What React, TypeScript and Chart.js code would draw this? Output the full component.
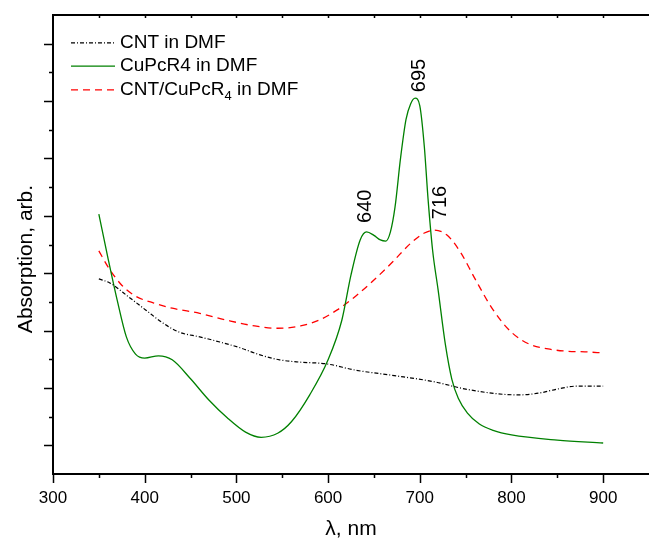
import React, { useEffect, useRef } from "react";
import { Chart, registerables } from "chart.js";

Chart.register(...registerables);

// ---- Data ----
const cntWavelengths = [350, 362, 383, 401, 420, 438, 460, 482, 504, 525, 547, 569, 598, 630, 670, 715, 750, 790, 810, 830, 850, 870, 900];
const cntValues = [3.90, 3.83, 3.58, 3.36, 3.13, 2.97, 2.89, 2.80, 2.70, 2.58, 2.49, 2.45, 2.42, 2.31, 2.22, 2.11, 1.98, 1.89, 1.88, 1.91, 1.98, 2.03, 2.03];

const cupcWavelengths = [350, 360, 370, 380, 390, 400, 415, 430, 450, 470, 490, 510, 527, 545, 560, 580, 600, 615, 625, 635, 642, 650, 657, 663, 668, 673, 679, 685, 690, 695, 700, 705, 709, 714, 720, 728, 735, 742, 752, 765, 780, 800, 850, 900];
const cupcValues = [5.03, 4.26, 3.53, 2.89, 2.59, 2.52, 2.56, 2.49, 2.16, 1.79, 1.48, 1.23, 1.14, 1.21, 1.41, 1.88, 2.49, 3.18, 3.97, 4.58, 4.72, 4.66, 4.58, 4.56, 4.72, 5.15, 6.00, 6.68, 6.95, 7.05, 6.92, 6.20, 5.30, 4.40, 3.71, 2.75, 2.15, 1.82, 1.56, 1.37, 1.26, 1.18, 1.09, 1.04];

const hybridWavelengths = [350, 360, 375, 390, 410, 430, 460, 490, 520, 545, 570, 590, 610, 630, 650, 670, 690, 705, 716, 730, 745, 760, 780, 800, 820, 840, 860, 880, 900];
const hybridValues = [4.39, 4.11, 3.79, 3.60, 3.48, 3.39, 3.30, 3.18, 3.08, 3.04, 3.08, 3.18, 3.36, 3.60, 3.88, 4.19, 4.52, 4.70, 4.75, 4.66, 4.35, 3.91, 3.36, 2.97, 2.76, 2.68, 2.64, 2.63, 2.61];

const xTickLabels = [300, 400, 500, 600, 700, 800, 900];
const xMin = 300;
const xMax = 950;
const yMin = 0.5;
const yMax = 8.5;

const xTitle = "λ, nm";
const yTitle = "Absorption, arb.";

// peak annotations: label text, series index, wavelength of the peak in that series
const peakTexts = ["640", "695", "716"];
const peakSeries = [1, 1, 2];
const peakWavelengths = [642, 695, 716];

const FONT = "'Liberation Sans', Arial, Helvetica, sans-serif";

const toPoints = (xs: number[], ys: number[]) => xs.map((x, i) => ({ x, y: ys[i] }));

const seriesX = [cntWavelengths, cupcWavelengths, hybridWavelengths];
const seriesY = [cntValues, cupcValues, hybridValues];

// style for peak annotations (offsets in px)
const peakStyle = [
  { dx: -1.5, gap: 9 },
  { dx: 4, gap: 6 },
  { dx: 6, gap: 11 },
];

const frameAndAnnotations = {
  id: "frameAndAnnotations",
  afterDraw(chart: any) {
    const { ctx, chartArea, scales } = chart;
    const xs = scales.x;
    const ys = scales.y;
    const L = chartArea.left;
    const R = chart.width;
    const T = chartArea.top;
    const B = chartArea.bottom;
    ctx.save();
    ctx.strokeStyle = "#000";
    ctx.fillStyle = "#000";
    ctx.setLineDash([]);

    // frame: left, top, bottom
    ctx.lineWidth = 2;
    ctx.beginPath();
    ctx.moveTo(L, B);
    ctx.lineTo(L, T);
    ctx.lineTo(R, T);
    ctx.moveTo(L - 1, B);
    ctx.lineTo(R, B);
    ctx.stroke();

    // y ticks (outward, left)
    ctx.lineWidth = 1.5;
    ctx.beginPath();
    for (let v = 1; v <= 8.001; v += 0.5) {
      const y = Math.round(ys.getPixelForValue(v)) + 0.5;
      const major = Math.abs(v - Math.round(v)) < 1e-6;
      ctx.moveTo(L, y);
      ctx.lineTo(L - (major ? 9 : 4), y);
    }
    ctx.stroke();

    // x ticks bottom (outward) and top (inward)
    ctx.beginPath();
    for (let v = xMin; v <= xMax - 1; v += 50) {
      const x = Math.round(xs.getPixelForValue(v)) + 0.5;
      const major = v % 100 === 0;
      ctx.moveTo(x, B);
      ctx.lineTo(x, B + (major ? 9 : 4));
      if (v > xMin) {
        ctx.moveTo(x, T);
        ctx.lineTo(x, T + 3);
      }
    }
    ctx.stroke();

    // x tick labels
    ctx.font = `17px ${FONT}`;
    ctx.textAlign = "center";
    ctx.textBaseline = "alphabetic";
    xTickLabels.forEach((v) => {
      ctx.fillText(String(v), xs.getPixelForValue(v), 503);
    });

    // axis titles
    ctx.font = `21px ${FONT}`;
    ctx.fillText(xTitle, (L + R) / 2, 535);
    ctx.save();
    ctx.translate(26.5, 259);
    ctx.rotate(-Math.PI / 2);
    ctx.textBaseline = "middle";
    ctx.fillText(yTitle, 0, 0);
    ctx.restore();

    // peak labels
    ctx.font = `20px ${FONT}`;
    peakTexts.forEach((txt, i) => {
      const s = peakSeries[i];
      const idx = seriesX[s].indexOf(peakWavelengths[i]);
      const px = xs.getPixelForValue(peakWavelengths[i]) + peakStyle[i].dx;
      const py = ys.getPixelForValue(seriesY[s][idx]) - peakStyle[i].gap;
      ctx.save();
      ctx.translate(px, py);
      ctx.rotate(-Math.PI / 2);
      ctx.textAlign = "left";
      ctx.textBaseline = "middle";
      ctx.fillText(txt, 0, 0);
      ctx.restore();
    });

    // legend
    const rows = [42.3, 65.7, 89.3];
    chart.data.datasets.forEach((ds: any, i: number) => {
      const y = rows[i];
      ctx.save();
      ctx.strokeStyle = ds.borderColor;
      ctx.lineWidth = ds.borderWidth;
      ctx.setLineDash(ds.borderDash || []);
      ctx.beginPath();
      ctx.moveTo(71, y + 0.5);
      ctx.lineTo(115, y + 0.5);
      ctx.stroke();
      ctx.restore();
      ctx.font = `19px ${FONT}`;
      ctx.textAlign = "left";
      ctx.textBaseline = "middle";
      const label: string = ds.label;
      const m = label.match(/^(.*R)(4)( in DMF)$/);
      if (i === 2 && m) {
        let x = 120;
        ctx.fillText(m[1], x, y);
        x += ctx.measureText(m[1]).width;
        ctx.font = `13px ${FONT}`;
        ctx.fillText(m[2], x, y + 7);
        x += ctx.measureText(m[2]).width;
        ctx.font = `19px ${FONT}`;
        ctx.fillText(m[3], x, y);
      } else {
        ctx.fillText(label, 120, y);
      }
    });

    ctx.restore();
  },
};

export default function App() {
  const canvasRef = useRef<HTMLCanvasElement | null>(null);

  useEffect(() => {
    if (!canvasRef.current) return;
    const chart = new Chart(canvasRef.current, {
      type: "line",
      data: {
        datasets: [
          {
            label: "CNT in DMF",
            data: toPoints(cntWavelengths, cntValues),
            borderColor: "#000000",
            borderWidth: 1.2,
            borderDash: [4, 2, 1, 2],
            pointRadius: 0,
            fill: false,
            cubicInterpolationMode: "monotone",
          },
          {
            label: "CuPcR4 in DMF",
            data: toPoints(cupcWavelengths, cupcValues),
            borderColor: "#008000",
            borderWidth: 1.3,
            pointRadius: 0,
            fill: false,
            cubicInterpolationMode: "monotone",
          },
          {
            label: "CNT/CuPcR4 in DMF",
            data: toPoints(hybridWavelengths, hybridValues),
            borderColor: "#ff0000",
            borderWidth: 1.3,
            borderDash: [7, 5],
            pointRadius: 0,
            fill: false,
            cubicInterpolationMode: "monotone",
          },
        ],
      },
      options: {
        animation: false,
        responsive: false,
        maintainAspectRatio: false,
        devicePixelRatio: 1,
        layout: { padding: { left: 53, right: 0, top: 15, bottom: 64 } },
        scales: {
          x: { type: "linear", min: xMin, max: xMax, display: false },
          y: { type: "linear", min: yMin, max: yMax, display: false },
        },
        plugins: {
          legend: { display: false },
          tooltip: { enabled: false },
        },
        elements: { point: { radius: 0 } },
      },
      plugins: [frameAndAnnotations],
    });
    return () => chart.destroy();
  }, []);

  return (
    <div style={{ position: "fixed", left: 0, top: 0, width: 649, height: 538, background: "#fff" }}>
      <canvas ref={canvasRef} width={649} height={538} style={{ display: "block", width: 649, height: 538 }} />
    </div>
  );
}
